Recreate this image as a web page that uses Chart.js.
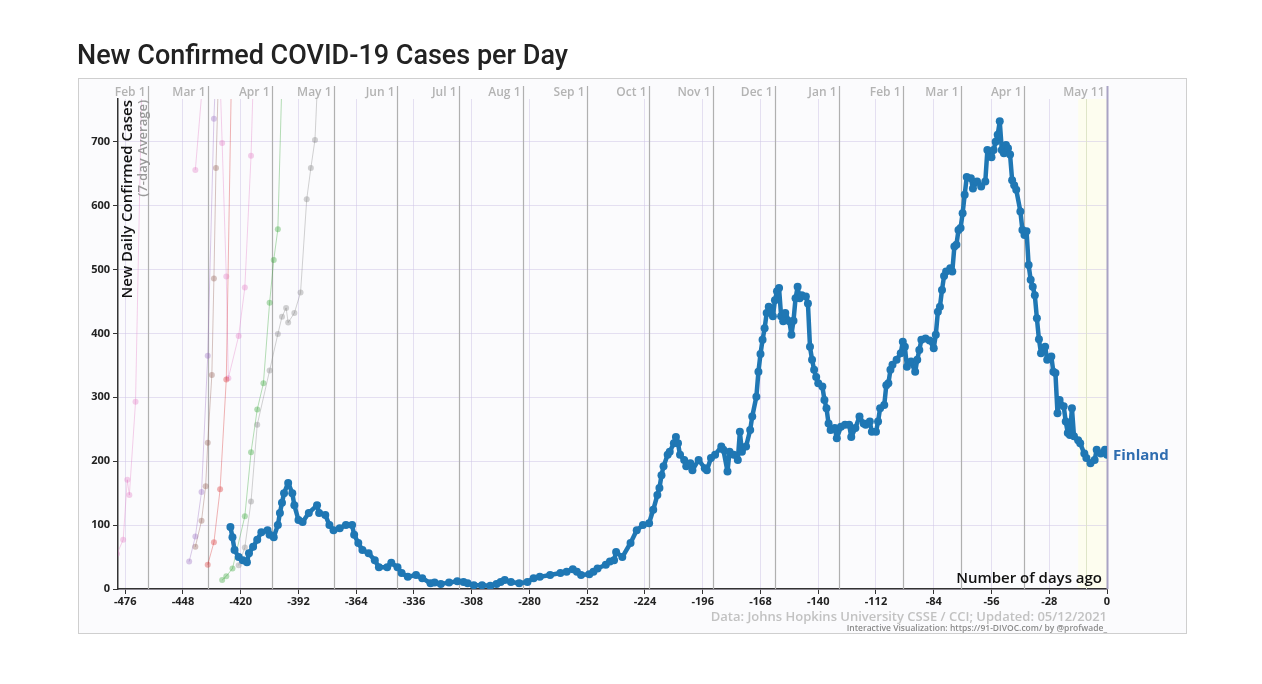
<!DOCTYPE html>
<html>
<head>
<meta charset="utf-8">
<script src="https://cdn.jsdelivr.net/npm/chart.js@4.4.1/dist/chart.umd.min.js"></script>
<style>
  html, body { margin: 0; padding: 0; background: #fff; }
  #wrap { width: 1262px; height: 684px; }
</style>
</head>
<body>
<div id="wrap"><canvas id="covid_chart" width="1262" height="684"></canvas></div>
<script>
// Finland, 7-day average of new cases, by number of days ago
var finDays = [-425,-424,-423,-421,-419,-417,-416,-414,-412,-410,-407,-406,-404,-402,-401,-400,-399,-397,-395,-394,
  -392,-390,-387,-383,-382,-379,-377,-375,-372,-369,-366,-365,-363,-361,-358,-355,-353,-349,-347,-344,
  -342,-339,-335,-332,-328,-326,-323,-319,-315,-312,-310,-307,-303,-299,-296,-294,-292,-289,-285,-281,
  -278,-275,-270,-265,-262,-259,-257,-255,-251,-249,-247,-243,-241,-239,-238,-235,-231,-228,-225,-222,
  -220,-218,-217,-216,-215,-213,-212,-210,-209,-208,-207,-205,-204,-202,-201,-198,-195,-194,-192,-190,
  -187,-186,-184,-183,-181,-179,-178,-177,-175,-173,-172,-170,-169,-168,-167,-166,-165,-164,-163,-162,
  -161,-160,-159,-158,-157,-156,-154,-153,-152,-151,-150,-149,-148,-146,-145,-144,-143,-142,-141,-140,
  -138,-137,-136,-135,-134,-132,-131,-129,-127,-125,-124,-122,-120,-118,-117,-115,-114,-112,-111,-110,
  -108,-107,-106,-105,-104,-102,-100,-99,-98,-97,-95,-93,-92,-91,-90,-88,-86,-84,-83,-82,
  -81,-80,-79,-78,-76,-75,-74,-73,-72,-71,-70,-69,-68,-66,-65,-63,-61,-59,-58,-56,
  -55,-54,-53,-52,-51,-50,-49,-48,-47,-46,-45,-44,-42,-41,-40,-39,-38,-37,-36,-35,
  -34,-33,-32,-30,-29,-27,-26,-25,-24,-23,-21,-20,-19,-18,-17,-16,-14,-13,-11,-10,
  -8,-6,-5,-3,-1,0];
var finCases = [97,81,61,50,45,42,56,66,77,89,92,85,81,100,119,135,150,166,150,131,
  108,105,119,131,119,116,100,92,95,100,100,85,72,61,56,45,34,34,41,34,
  25,19,22,17,9,10,8,10,12,11,9,6,6,5,8,11,14,11,9,11,
  17,19,22,25,27,31,27,22,23,27,32,38,43,45,58,50,72,92,100,103,
  124,147,158,178,192,210,215,228,238,228,210,202,192,197,186,202,189,186,205,210,
  223,218,184,215,210,202,246,215,223,249,270,301,340,368,390,408,432,442,434,427,
  452,466,471,427,419,432,419,398,420,455,473,455,460,458,447,379,359,343,332,322,
  317,296,283,259,249,252,236,254,257,257,238,252,270,259,257,262,246,246,262,283,
  288,319,322,343,351,359,369,387,379,348,356,340,359,374,390,392,389,377,398,434,
  442,468,490,497,502,497,536,539,562,565,588,617,645,643,627,638,630,638,687,676,
  687,700,711,732,687,682,695,690,680,640,632,625,591,562,554,560,507,484,473,460,
  424,391,369,379,359,364,340,338,275,296,286,262,244,241,283,239,233,228,212,205,
  197,202,218,212,218,210];

// faded comparison countries in the background (they run off the top)
var pinkADays = [-480,-477,-475,-474,-471,-467];
var pinkACases = [55,77,171,147,293,950];
var purpleDays = [-445,-442,-439,-436,-433,-431];
var purpleCases = [43,82,152,365,736,900];
var brownDays = [-442,-439,-437,-436,-434,-433,-432,-430];
var brownCases = [66,107,161,229,335,486,659,900];
var redDays = [-436,-433,-430,-427,-424];
var redCases = [38,73,156,328,900];
var pinkBDays = [-431,-429,-427,-426,-421,-418,-415,-413];
var pinkBCases = [900,698,489,330,396,472,678,900];
var pinkCDays = [-442,-437];
var pinkCCases = [656,850];
var greenDays = [-429,-427,-424,-418,-415,-412,-409,-406,-404,-402,-400];
var greenCases = [14,20,32,114,214,281,322,448,515,563,800];
var grayDays = [-421,-418,-415,-412,-406,-402,-400,-398,-397,-394,-391,-388,-386,-384,-382];
var grayCases = [37,65,137,257,342,399,426,440,417,432,464,610,659,703,850];

var xTicks = [-476,-448,-420,-392,-364,-336,-308,-280,-252,-224,-196,-168,-140,-112,-84,-56,-28,0];
var yTicks = [0,100,200,300,400,500,600,700];

var monthDays = [-465,-436,-405,-375,-344,-314,-283,-252,-222,-191,-161,-130,-99,-71,-40,0];
var monthLabels = ['Feb 1','Mar 1','Apr 1','May 1','Jun 1','Jul 1','Aug 1','Sep 1','Oct 1','Nov 1','Dec 1','Jan 1','Feb 1','Mar 1','Apr 1','May 11'];

function pts(days, vals) {
  return days.map(function (d, i) { return { x: d, y: vals[i] }; });
}
function faded(days, vals, color) {
  return {
    data: pts(days, vals), borderColor: color, backgroundColor: color,
    borderWidth: 1, pointRadius: 3, pointBorderWidth: 0, order: 1
  };
}

var FONT = '"Open Sans", "DejaVu Sans", sans-serif';

var decor = {
  id: 'decor',
  beforeDraw: function (chart) {
    var ctx = chart.ctx, a = chart.chartArea;
    ctx.save();
    ctx.fillStyle = '#fff';
    ctx.fillRect(0, 0, chart.width, chart.height);
    ctx.fillStyle = '#fbfbfd';
    ctx.fillRect(78, 78, 1108, 555);
    ctx.strokeStyle = '#cfcfcf';
    ctx.lineWidth = 1;
    ctx.strokeRect(78.5, 78.5, 1108, 555);
    // title
    ctx.fillStyle = '#222';
    ctx.font = '500 27px Roboto, sans-serif';
    ctx.textBaseline = 'alphabetic';
    ctx.fillText('New Confirmed COVID-19 Cases per Day', 77, 64);
    // last two weeks band
    var x = chart.scales.x;
    ctx.fillStyle = 'rgba(255,255,225,0.5)';
    ctx.fillRect(x.getPixelForValue(-14), a.top, x.getPixelForValue(0) - x.getPixelForValue(-14), a.bottom - a.top);
    ctx.restore();
  },
  beforeDatasetsDraw: function (chart) {
    var ctx = chart.ctx, a = chart.chartArea, x = chart.scales.x;
    ctx.save();
    ctx.strokeStyle = '#dfe5c8';
    ctx.lineWidth = 1;
    var px = Math.round(x.getPixelForValue(-10)) + 0.5;
    ctx.beginPath(); ctx.moveTo(px, a.top); ctx.lineTo(px, a.bottom); ctx.stroke();
    ctx.font = '600 12px ' + FONT;
    ctx.textAlign = 'right';
    ctx.textBaseline = 'middle';
    for (var i = 0; i < monthDays.length; i++) {
      px = Math.round(x.getPixelForValue(monthDays[i])) + 0.5;
      var last = i === monthDays.length - 1;
      ctx.strokeStyle = last ? '#a9a3c4' : '#b0b0b0';
      ctx.lineWidth = last ? 2 : 1.2;
      ctx.beginPath(); ctx.moveTo(px, 86); ctx.lineTo(px, a.bottom); ctx.stroke();
      ctx.fillStyle = '#b3b3b3';
      ctx.fillText(monthLabels[i], px - 3, 93);
    }
    ctx.restore();
  },
  afterDraw: function (chart) {
    var ctx = chart.ctx, a = chart.chartArea;
    ctx.save();
    // y axis title
    ctx.translate(133, a.top + 1);
    ctx.rotate(-Math.PI / 2);
    ctx.textAlign = 'right';
    ctx.textBaseline = 'middle';
    ctx.fillStyle = '#111';
    ctx.font = '600 15px ' + FONT;
    ctx.fillText('New Daily Confirmed Cases', 0, -5);
    ctx.fillStyle = '#999';
    ctx.font = '600 13px ' + FONT;
    ctx.fillText('(7-day Average)', 0, 10);
    ctx.restore();

    ctx.save();
    ctx.textAlign = 'right';
    ctx.textBaseline = 'middle';
    ctx.fillStyle = '#111';
    ctx.font = '600 15px ' + FONT;
    ctx.fillText('Number of days ago', a.right - 5, 579);
    ctx.fillStyle = '#c2c2c2';
    ctx.font = '600 13px ' + FONT;
    ctx.fillText('Data: Johns Hopkins University CSSE / CCI; Updated: 05/12/2021', a.right, 617);
    ctx.fillStyle = '#8a8a8a';
    ctx.font = '600 8.5px ' + FONT;
    ctx.fillText('Interactive Visualization: https://91-DIVOC.com/ by @profwade_', a.right, 629);
    // series label
    var meta = chart.getDatasetMeta(0);
    var p = meta.data[meta.data.length - 1];
    ctx.textAlign = 'left';
    ctx.fillStyle = '#2f6db0';
    ctx.font = 'bold 15px ' + FONT;
    ctx.fillText('Finland', p.x + 6, p.y + 1);
    ctx.restore();
  }
};

var chart = new Chart(document.getElementById('covid_chart'), {
  type: 'line',
  data: {
    datasets: [
      {
        label: 'Finland', data: pts(finDays, finCases),
        borderColor: '#1f77b4', backgroundColor: '#1f77b4',
        borderWidth: 4.5, pointRadius: 4, pointBorderWidth: 0, order: 0,
        borderJoinStyle: 'round', borderCapStyle: 'round'
      },
      faded(pinkADays, pinkACases, 'rgba(227,119,194,0.35)'),
      faded(purpleDays, purpleCases, 'rgba(148,103,189,0.35)'),
      faded(brownDays, brownCases, 'rgba(140,86,75,0.35)'),
      faded(redDays, redCases, 'rgba(214,39,40,0.35)'),
      faded(pinkBDays, pinkBCases, 'rgba(227,119,194,0.35)'),
      faded(pinkCDays, pinkCCases, 'rgba(227,119,194,0.35)'),
      faded(greenDays, greenCases, 'rgba(44,160,44,0.35)'),
      faded(grayDays, grayCases, 'rgba(127,127,127,0.35)')
    ]
  },
  options: {
    responsive: false,
    animation: false,
    devicePixelRatio: 1,
    layout: { padding: { left: 78, top: 99, right: 155, bottom: 73 } },
    plugins: { legend: { display: false }, tooltip: { enabled: false } },
    scales: {
      x: {
        type: 'linear', min: -479.5, max: 0,
        afterBuildTicks: function (axis) { axis.ticks = xTicks.map(function (v) { return { value: v }; }); },
        afterFit: function (axis) { axis.height = 22; },
        grid: { color: 'rgba(205,195,230,0.5)', tickLength: 5, tickColor: '#333' },
        border: { color: '#333', width: 1.5 },
        ticks: { color: '#222', font: { family: FONT, weight: 'bold', size: 11 }, padding: 1, maxRotation: 0,
          callback: function (v) { return String(v); } }
      },
      y: {
        min: 0, max: 767,
        afterBuildTicks: function (axis) { axis.ticks = yTicks.map(function (v) { return { value: v }; }); },
        afterFit: function (axis) { axis.width = 40; },
        grid: { color: 'rgba(205,195,230,0.5)', tickLength: 5, tickColor: '#333' },
        border: { color: '#333', width: 1.5 },
        ticks: { color: '#222', font: { family: FONT, weight: 'bold', size: 11 }, padding: 3,
          callback: function (v) { return String(v); } }
      }
    }
  },
  plugins: [decor]
});
</script>
</body>
</html>
